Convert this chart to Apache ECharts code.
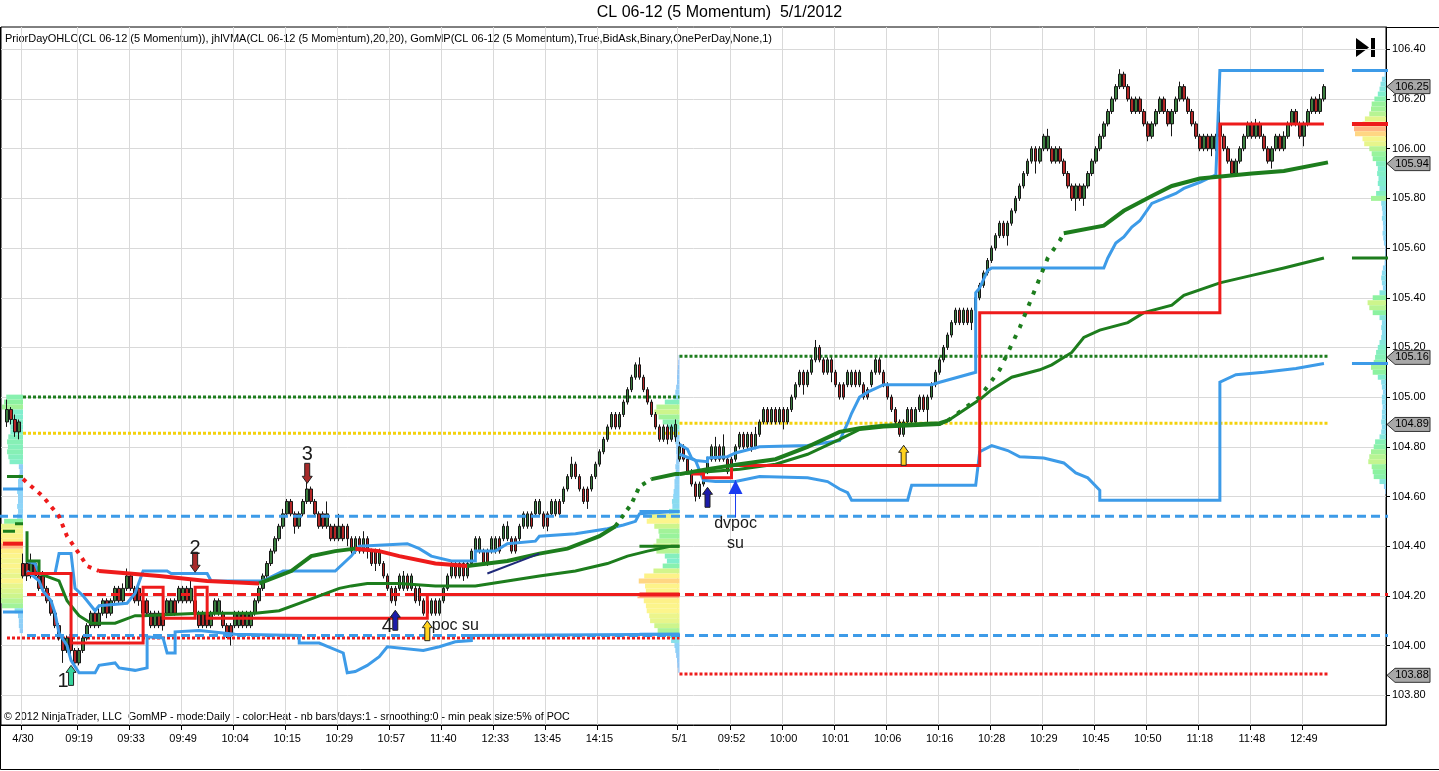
<!DOCTYPE html>
<html>
<head>
<meta charset="utf-8">
<script src="https://cdn.jsdelivr.net/npm/echarts@6/dist/echarts.min.js"></script>
<style>
html, body { margin: 0; padding: 0; background: #fff; }
#chart { width: 1439px; height: 771px; }
</style>
</head>
<body>
<div id="chart"></div>
<script>
// ---- data ----
// momentum bars [open, close, low, high]; first 4 are the tail of the prior session
const day1Bars = [
  [104.90,104.95,104.88,104.99],[104.95,104.91,104.89,104.96],[104.91,104.86,104.84,104.93],[104.86,104.90,104.83,104.91],
  [104.33,104.28,104.27,104.37],[104.33,104.28,104.26,104.34],[104.28,104.33,104.27,104.37],[104.33,104.28,104.27,104.34],
  [104.28,104.23,104.22,104.29],[104.28,104.23,104.22,104.30],[104.23,104.18,104.17,104.24],[104.18,104.13,104.12,104.19],
  [104.13,104.08,104.07,104.14],[104.08,104.03,104.02,104.09],[104.03,103.98,103.93,104.04],[103.98,104.03,103.97,104.04],
  [104.03,103.98,103.96,104.04],[103.98,103.93,103.92,103.99],[103.93,103.98,103.92,103.99],[103.98,104.03,103.97,104.04],
  [104.03,104.08,104.02,104.09],[104.08,104.13,104.07,104.14],[104.13,104.08,104.07,104.14],[104.08,104.13,104.07,104.15],
  [104.13,104.18,104.12,104.19],[104.18,104.13,104.11,104.19],[104.13,104.18,104.12,104.19],[104.18,104.23,104.17,104.24],
  [104.23,104.18,104.17,104.24],[104.18,104.23,104.17,104.25],[104.23,104.28,104.22,104.31],[104.28,104.23,104.22,104.29],
  [104.23,104.18,104.17,104.24],[104.23,104.18,104.16,104.24],[104.18,104.13,104.12,104.19],[104.18,104.13,104.12,104.19],
  [104.13,104.08,104.07,104.14],[104.08,104.13,104.07,104.14],[104.13,104.08,104.07,104.14],[104.13,104.08,104.06,104.14],
  [104.13,104.18,104.12,104.19],[104.13,104.18,104.12,104.19],[104.18,104.13,104.12,104.19],[104.18,104.23,104.17,104.24],
  [104.18,104.23,104.17,104.24],[104.23,104.18,104.17,104.24],[104.18,104.23,104.17,104.27],[104.18,104.13,104.12,104.19],
  [104.13,104.08,104.07,104.14],[104.13,104.08,104.07,104.14],[104.13,104.08,104.07,104.14],[104.08,104.13,104.07,104.14],
  [104.13,104.18,104.12,104.19],[104.13,104.18,104.12,104.19],[104.13,104.08,104.07,104.14],[104.08,104.04,104.03,104.09],
  [104.08,104.04,104.00,104.09],[104.08,104.13,104.07,104.14],[104.08,104.13,104.07,104.14],[104.13,104.08,104.07,104.14],
  [104.08,104.13,104.07,104.14],[104.08,104.13,104.07,104.14],[104.13,104.18,104.12,104.19],[104.18,104.23,104.17,104.24],
  [104.23,104.28,104.22,104.29],[104.28,104.33,104.27,104.34],[104.33,104.38,104.32,104.39],[104.38,104.43,104.37,104.44],
  [104.43,104.48,104.42,104.49],[104.48,104.53,104.47,104.55],[104.53,104.58,104.52,104.59],[104.58,104.53,104.52,104.59],
  [104.53,104.48,104.45,104.54],[104.48,104.53,104.47,104.54],[104.53,104.58,104.52,104.59],[104.58,104.63,104.57,104.66],
  [104.63,104.58,104.57,104.64],[104.58,104.53,104.52,104.59],[104.53,104.48,104.47,104.54],[104.53,104.48,104.47,104.54],
  [104.48,104.53,104.47,104.58],[104.48,104.43,104.42,104.49],[104.48,104.43,104.42,104.49],[104.43,104.48,104.42,104.53],
  [104.48,104.43,104.42,104.49],[104.48,104.43,104.40,104.49],[104.43,104.38,104.37,104.44],[104.38,104.43,104.37,104.44],
  [104.43,104.38,104.37,104.44],[104.38,104.43,104.37,104.46],[104.43,104.38,104.35,104.44],[104.38,104.33,104.32,104.39],
  [104.38,104.33,104.30,104.39],[104.33,104.38,104.32,104.39],[104.33,104.28,104.27,104.34],[104.28,104.23,104.22,104.29],
  [104.23,104.18,104.17,104.24],[104.23,104.18,104.16,104.24],[104.23,104.28,104.22,104.29],[104.23,104.28,104.22,104.30],
  [104.28,104.23,104.22,104.29],[104.23,104.28,104.22,104.29],[104.23,104.18,104.17,104.24],[104.23,104.18,104.16,104.24],
  [104.18,104.13,104.12,104.19],[104.18,104.13,104.11,104.19],[104.13,104.18,104.12,104.19],[104.18,104.13,104.12,104.19],
  [104.13,104.18,104.12,104.19],[104.18,104.23,104.17,104.24],[104.23,104.28,104.22,104.29],[104.28,104.33,104.27,104.34],
  [104.33,104.28,104.27,104.34],[104.28,104.33,104.27,104.34],[104.33,104.28,104.26,104.34],[104.28,104.33,104.27,104.34],
  [104.33,104.38,104.32,104.39],[104.38,104.43,104.37,104.44],[104.38,104.43,104.37,104.44],[104.38,104.33,104.32,104.39],
  [104.38,104.33,104.32,104.39],[104.38,104.43,104.37,104.44],[104.38,104.43,104.37,104.44],[104.43,104.38,104.37,104.44],
  [104.43,104.48,104.42,104.49],[104.43,104.48,104.42,104.50],[104.43,104.38,104.37,104.44],[104.43,104.38,104.37,104.44],
  [104.43,104.48,104.42,104.49],[104.48,104.53,104.47,104.54],[104.48,104.53,104.47,104.54],[104.53,104.48,104.47,104.54],
  [104.53,104.58,104.52,104.59],[104.53,104.58,104.52,104.59],[104.53,104.48,104.47,104.54],[104.53,104.48,104.46,104.54],
  [104.53,104.58,104.52,104.59],[104.53,104.58,104.52,104.59],[104.58,104.53,104.52,104.59],[104.58,104.63,104.57,104.64],
  [104.63,104.68,104.62,104.69],[104.68,104.73,104.67,104.76],[104.73,104.68,104.67,104.74],[104.68,104.63,104.62,104.69],
  [104.63,104.58,104.57,104.64],[104.63,104.58,104.55,104.64],[104.63,104.68,104.62,104.69],[104.68,104.73,104.67,104.74],
  [104.73,104.78,104.72,104.79],[104.78,104.83,104.77,104.84],[104.83,104.88,104.82,104.89],[104.88,104.93,104.87,104.94],
  [104.93,104.88,104.87,104.94],[104.88,104.93,104.87,104.94],[104.93,104.98,104.92,104.99],[104.98,105.03,104.97,105.04],
  [105.03,105.08,105.02,105.09],[105.08,105.13,105.07,105.14],[105.13,105.08,105.07,105.16],[105.08,105.03,105.02,105.09],
  [105.03,104.98,104.97,105.04],[104.98,104.93,104.92,104.99],[104.93,104.88,104.87,104.94],[104.88,104.83,104.82,104.89],
  [104.83,104.88,104.82,104.89],[104.88,104.83,104.81,104.89],[104.83,104.88,104.82,104.89],[104.84,104.89,104.82,104.91]
];
const day2Bars = [
  [104.75,104.80,104.74,104.82],[104.80,104.75,104.74,104.81],[104.75,104.70,104.69,104.76],[104.70,104.65,104.64,104.71],
  [104.65,104.60,104.58,104.66],[104.60,104.65,104.59,104.66],[104.65,104.70,104.64,104.71],[104.70,104.75,104.69,104.76],
  [104.75,104.80,104.74,104.81],[104.75,104.80,104.74,104.84],[104.80,104.75,104.74,104.81],[104.75,104.80,104.74,104.85],
  [104.75,104.70,104.69,104.76],[104.75,104.70,104.68,104.76],[104.75,104.80,104.74,104.81],[104.80,104.85,104.79,104.86],
  [104.85,104.80,104.79,104.86],[104.80,104.85,104.79,104.86],[104.85,104.80,104.78,104.86],[104.80,104.85,104.79,104.88],
  [104.85,104.90,104.84,104.91],[104.90,104.95,104.89,104.96],[104.95,104.90,104.89,104.96],[104.90,104.95,104.89,104.96],
  [104.95,104.90,104.89,104.96],[104.90,104.95,104.89,104.96],[104.95,104.90,104.87,104.96],[104.90,104.95,104.89,104.96],
  [104.95,105.00,104.94,105.01],[105.00,105.05,104.99,105.06],[105.05,105.10,105.04,105.11],[105.10,105.05,105.01,105.11],
  [105.05,105.10,105.04,105.11],[105.10,105.15,105.09,105.16],[105.15,105.20,105.14,105.23],[105.20,105.15,105.14,105.21],
  [105.15,105.10,105.09,105.16],[105.10,105.15,105.09,105.16],[105.15,105.10,105.06,105.16],[105.10,105.05,105.04,105.11],
  [105.05,105.00,104.99,105.06],[105.05,105.00,104.99,105.06],[105.05,105.10,105.04,105.11],
  [105.05,105.10,105.04,105.11],[105.10,105.05,105.04,105.11],[105.05,105.10,105.04,105.11],[105.05,105.00,104.99,105.06],
  [105.03,105.00,104.99,105.04],[105.05,105.10,105.04,105.11],[105.10,105.15,105.09,105.16],[105.15,105.10,105.09,105.16],
  [105.10,105.05,105.04,105.11],[105.05,105.00,104.99,105.06],[105.00,104.95,104.94,105.01],[104.95,104.90,104.89,104.96],
  [104.90,104.85,104.84,104.91],[104.85,104.90,104.84,104.91],[104.90,104.95,104.89,104.96],[104.95,104.90,104.89,104.96],
  [104.90,104.95,104.89,104.96],[104.95,105.00,104.94,105.01],[105.00,104.95,104.94,105.01],[104.95,105.00,104.90,105.01],
  [105.00,105.05,104.99,105.06],[105.05,105.10,105.04,105.11],[105.10,105.15,105.09,105.16],[105.15,105.20,105.14,105.21],
  [105.20,105.25,105.19,105.26],[105.25,105.30,105.24,105.31],[105.30,105.35,105.29,105.36],[105.35,105.30,105.29,105.36],
  [105.30,105.35,105.29,105.36],[105.35,105.30,105.29,105.36],[105.30,105.35,105.27,105.36],[105.35,105.40,105.34,105.41],
  [105.40,105.45,105.39,105.46],[105.45,105.50,105.44,105.51],[105.50,105.55,105.49,105.56],[105.55,105.60,105.54,105.61],
  [105.60,105.65,105.59,105.66],[105.65,105.70,105.64,105.71],[105.70,105.65,105.64,105.71],[105.65,105.70,105.61,105.71],
  [105.70,105.75,105.69,105.76],[105.75,105.80,105.74,105.81],[105.80,105.85,105.79,105.86],[105.85,105.90,105.84,105.91],
  [105.90,105.95,105.89,105.96],[105.95,106.00,105.94,106.01],[106.00,105.95,105.90,106.01],[105.95,106.00,105.94,106.01],
  [106.00,106.05,105.99,106.06],[106.00,106.05,105.99,106.08],[106.00,105.95,105.94,106.01],[105.95,106.00,105.94,106.01],
  [106.00,105.95,105.94,106.01],[105.95,105.90,105.89,105.96],[105.90,105.85,105.84,105.91],[105.85,105.80,105.79,105.86],
  [105.80,105.85,105.75,105.86],[105.85,105.80,105.79,105.86],[105.80,105.85,105.77,105.86],[105.85,105.90,105.84,105.91],
  [105.90,105.95,105.89,105.96],[105.95,106.00,105.94,106.01],[106.00,106.05,105.99,106.06],[106.05,106.10,106.04,106.11],
  [106.10,106.15,106.09,106.16],[106.15,106.20,106.14,106.21],[106.20,106.25,106.19,106.26],[106.25,106.30,106.24,106.32],
  [106.30,106.25,106.24,106.31],[106.25,106.20,106.19,106.26],[106.20,106.15,106.14,106.21],[106.15,106.20,106.14,106.21],
  [106.20,106.15,106.14,106.21],[106.15,106.10,106.09,106.16],[106.10,106.05,106.03,106.11],[106.05,106.10,106.04,106.11],
  [106.10,106.15,106.09,106.16],[106.15,106.20,106.14,106.21],[106.20,106.15,106.14,106.21],[106.15,106.10,106.09,106.16],
  [106.10,106.15,106.05,106.16],[106.15,106.20,106.14,106.21],[106.20,106.25,106.19,106.27],[106.25,106.20,106.19,106.26],
  [106.20,106.15,106.14,106.21],[106.15,106.10,106.09,106.16],[106.10,106.05,106.04,106.11],[106.05,106.00,105.99,106.06],
  [106.00,106.05,105.99,106.06],[106.05,106.00,105.99,106.06],[106.00,106.05,105.97,106.06],[106.00,106.05,105.99,106.06],
  [106.10,106.05,106.04,106.15],[106.05,106.00,105.99,106.06],[106.00,105.95,105.94,106.01],[105.95,105.90,105.89,105.96],
  [105.90,105.95,105.89,105.96],[105.95,106.00,105.94,106.01],[106.00,106.05,105.99,106.06],[106.05,106.10,106.04,106.11],
  [106.10,106.05,106.04,106.11],[106.05,106.10,106.04,106.12],[106.10,106.05,106.04,106.11],[106.05,106.00,105.99,106.06],
  [106.00,105.95,105.94,106.01],[105.95,106.00,105.92,106.01],[106.00,106.05,105.99,106.06],[106.05,106.00,105.99,106.06],
  [106.00,106.05,105.99,106.07],[106.05,106.10,106.04,106.11],[106.10,106.15,106.09,106.16],[106.15,106.10,106.09,106.16],
  [106.10,106.05,106.04,106.11],[106.05,106.10,106.01,106.11],[106.10,106.15,106.09,106.16],[106.15,106.20,106.14,106.21],
  [106.20,106.15,106.14,106.21],[106.15,106.20,106.14,106.22],[106.20,106.25,106.19,106.26]
];

// time axis labels: [bar index, text]
const timeLabels = [[4,'4/30'],[18,'09:19'],[31,'09:33'],[44,'09:49'],[57,'10:04'],[70,'10:15'],[83,'10:29'],
  [96,'10:57'],[109,'11:40'],[122,'12:33'],[135,'13:45'],[148,'14:15'],[168,'5/1'],[181,'09:52'],[194,'10:00'],
  [207,'10:01'],[220,'10:06'],[233,'10:16'],[246,'10:28'],[259,'10:29'],[272,'10:45'],[285,'10:50'],[298,'11:18'],
  [311,'11:48'],[324,'12:49']];
const priceTicks = [103.8,104.0,104.2,104.4,104.6,104.8,105.0,105.2,105.4,105.6,105.8,106.0,106.2,106.4];
const priceTags = [106.25,105.94,105.16,104.89,103.88];

// prior day high / close / low
const priorDay1 = [105.00,104.855,104.03];
const priorDay2 = [105.165,104.895,103.885];
// levels running across both sessions: blue, red, blue
const wideLevels = [104.52,104.205,104.04];

// jhlVMA pieces [bar, price]
const vmaRedDots = [[4,104.67],[9,104.60],[12.75,104.52],[15.25,104.44],[17.75,104.37],[20.25,104.32],[23.25,104.30]];
const vmaRed1 = [[23.25,104.30],[38.25,104.28],[50,104.26],[63.25,104.25]];
const vmaGreen1 = [[63.25,104.25],[70.75,104.30],[75.75,104.36],[81.5,104.38],[87,104.39]];
const vmaRed2 = [[87,104.39],[93.25,104.38],[98.25,104.36],[106.5,104.33],[115,104.32]];
const vmaGreen2 = [[115,104.32],[125,104.34],[132.5,104.37],[140,104.39],[147.5,104.44],[152,104.48]];
const vmaGreenDots1 = [[152,104.48],[155.75,104.57],[158.25,104.64],[161,104.67]];
const vmaGreen3 = [[161,104.67],[166.5,104.69],[167.8,104.69]];
const vmaDay2 = [[168.2,104.69],[175,104.71],[183.25,104.73],[191.5,104.75],[200,104.80],[208.25,104.86],[213.25,104.875],
  [219,104.885],[233.25,104.895],[235,104.905]];
const vmaDay2Dots = [[235,104.905],[242.5,105.00],[247.5,105.11],[252.5,105.28],[257.5,105.48],[260,105.56],[262.5,105.63],[264,105.66]];
const vmaDay2b = [[264,105.66],[274,105.69],[279,105.75],[285.75,105.81],[290.75,105.85],[297.5,105.88],[310.75,105.90],[319,105.91],[330,105.945]];

// GomMP developing lines [bar, price]
const vwapDay1 = [[4.5,104.46],[5,104.34],[7.5,104.34],[8.25,104.29],[12.75,104.26],[14,104.22],[15.25,104.18],[16.5,104.14],
  [18.25,104.12],[20.75,104.09],[27,104.09],[31.5,104.12],[34,104.12],[48.25,104.13],[61.5,104.13],[67.5,104.14],[73.25,104.17],
  [78.25,104.20],[82.5,104.23],[85.75,104.24],[90,104.25],[98.25,104.25],[106.5,104.24],[116.5,104.24],[125,104.26],[132.5,104.28],
  [141.5,104.30],[150,104.33],[155,104.36],[160,104.38],[165.75,104.40],[167.8,104.40]];
const vwapDay2 = [[168.2,104.69],[175,104.70],[183.25,104.71],[191.5,104.73],[200,104.77],[208.25,104.83],[213.25,104.87],[219,104.88],
  [233.25,104.89],[235.75,104.915],[242.5,104.99],[245.75,105.03],[250.75,105.08],[257.5,105.11],[260.75,105.13],[265.75,105.18],
  [269,105.24],[273.25,105.27],[280,105.30],[284,105.34],[290.75,105.37],[294,105.41],[302.5,105.46],[310.75,105.49],[319,105.52],[329,105.56]];
const pocDay1 = [[4.5,104.29],[16.25,104.29],[16.25,104.01],[34,104.01],[34,104.235],[39,104.235],[39,104.11],[46.5,104.11],
  [46.5,104.235],[50.25,104.235],[50.25,104.11],[104.5,104.11],[104.5,104.205],[167.8,104.205]];
const pocDay2 = [[171,104.69],[174,104.69],[174,104.675],[181.25,104.675],[181.25,104.725],[242.5,104.725],[242.5,105.34],[302.5,105.34],[302.5,106.10],[329,106.10]];
const bandUp1 = [[4.5,104.34],[7.4,104.33],[8.25,104.29],[11.6,104.29],[12.8,104.37],[16.2,104.37],[16.75,104.23],[18.7,104.20],
  [21.6,104.14],[23.25,104.16],[29.9,104.17],[32,104.21],[34.1,104.30],[39.5,104.30],[41.2,104.29],[50.3,104.29],[50.75,104.26],
  [64,104.26],[69,104.30],[81.6,104.30],[85.75,104.36],[88.25,104.40],[99.9,104.41],[103.25,104.39],[105.75,104.36],[110.75,104.34],
  [116.6,104.34],[117.4,104.38],[122.4,104.38],[124.9,104.41],[132.4,104.42],[133.25,104.44],[141.6,104.45],[145.75,104.46],
  [150,104.47],[154,104.485],[156.6,104.50],[158.25,104.53],[167.8,104.54]];
const bandLow1 = [[4.5,104.30],[8.25,104.26],[9.1,104.22],[10.75,104.18],[12.4,104.13],[13.25,104.05],[14.9,104.00],[16.2,103.94],
  [18.25,103.89],[22.4,103.89],[23.25,103.92],[26.6,103.93],[28.25,103.91],[31.6,103.90],[34.5,103.91],[34.5,104.035],[39.1,104.03],
  [39.5,103.97],[41.6,103.97],[41.6,104.055],[48.25,104.06],[56.6,104.045],[73.25,104.04],[73.25,104.01],[78.25,104.01],[84.1,103.97],
  [84.9,103.89],[87.4,103.895],[89.9,103.92],[93.25,103.955],[94.9,103.995],[104.1,103.98],[108.25,103.995],[111.5,104.015],
  [115.75,104.02],[116.25,104.04],[167.8,104.045]];
const bandUp2 = [[168.2,104.81],[169.5,104.79],[170.75,104.755],[171.5,104.745],[175,104.74],[175.25,104.755],[180,104.76],
  [181.5,104.775],[187.5,104.80],[200,104.805],[208.25,104.825],[210,104.895],[210.75,104.935],[212.5,105.00],[215,105.02],
  [219,105.05],[230.75,105.05],[232.5,105.06],[241.5,105.10],[242.25,105.42],[243.25,105.44],[245,105.51],[245.75,105.52],
  [274,105.52],[275,105.56],[276.5,105.62],[279,105.645],[280.75,105.685],[283.25,105.71],[285.75,105.78],[289,105.80],
  [291.5,105.82],[294,105.84],[298.25,105.865],[301.5,105.895],[302.5,106.315],[329,106.315]];
const bandLow2 = [[168.2,104.77],[171.5,104.745],[174,104.665],[176.5,104.66],[181.5,104.66],[187.5,104.68],[200,104.675],
  [205,104.66],[208.25,104.63],[210,104.615],[210.75,104.585],[225.25,104.585],[226.25,104.645],[242.25,104.645],[242.5,104.78],
  [245.75,104.805],[250,104.785],[253.25,104.76],[259,104.755],[264,104.735],[266.5,104.695],[270,104.675],[273.25,104.625],
  [273.25,104.585],[302.5,104.585],[302.5,105.06],[306.5,105.09],[314,105.10],[321.5,105.115],[329,105.135]];
const trendLine = [[120.25,104.29],[132.5,104.37]];

// end-of-session markers [fromBar, toBar, price]
const blueMarks = [[-1.5,3.75,104.63],[-1.5,3.75,104.135],[157.75,167.8,104.54],[157.75,167.8,104.045],[335.75,344.5,106.315],[335.75,344.5,105.135]];
const greenMarks = [[0,3.75,104.68],[-1.5,1.5,104.46],[1.5,3.75,104.49],[157.75,167.8,104.40],[335.75,344.5,105.56]];
const redMarks = [[-1.5,3.75,104.41],[157.75,167.8,104.205],[335.75,344.5,106.10]];

// volume profiles [price, volume]
const profilePrev = [[105.00,40],[104.98,45],[104.96,50],[104.94,30],[104.92,30],[104.90,32],[104.88,30],[104.86,30],[104.84,35],
  [104.82,38],[104.80,36],[104.78,38],[104.76,35],[104.74,32],[104.72,10],[104.70,8],[104.68,10],[104.66,12],[104.64,12],[104.62,14],
  [104.60,12],[104.58,12],[104.56,14],[104.54,12],[104.52,14],[104.50,45],[104.48,70],[104.46,75],[104.44,85],[104.42,95],[104.40,100],
  [104.38,90],[104.36,80],[104.34,75],[104.32,80],[104.30,75],[104.28,70],[104.26,80],[104.24,70],[104.22,65],[104.20,60],[104.18,55],
  [104.16,50],[104.14,20],[104.12,12],[104.10,10],[104.08,10],[104.06,8]];
const profileDay1 = [[105.16,2],[105.14,3],[105.12,4],[105.10,5],[105.08,6],[105.06,6],[105.04,8],[105.02,10],[105.00,14],[104.98,35],
  [104.96,55],[104.94,60],[104.92,50],[104.90,40],[104.88,30],[104.86,20],[104.84,12],[104.82,10],[104.80,8],[104.78,8],[104.76,7],
  [104.74,8],[104.72,10],[104.70,9],[104.68,10],[104.66,12],[104.64,12],[104.62,14],[104.60,15],[104.58,18],[104.56,17],[104.54,25],
  [104.52,72],[104.50,78],[104.48,60],[104.46,50],[104.44,48],[104.42,55],[104.40,62],[104.38,55],[104.36,35],[104.34,30],[104.32,40],
  [104.30,62],[104.28,84],[104.26,97],[104.24,82],[104.22,80],[104.20,100],[104.18,85],[104.16,80],[104.14,78],[104.12,72],[104.10,70],
  [104.08,60],[104.06,52],[104.04,30],[104.02,20],[104.00,12],[103.98,10],[103.96,8],[103.94,6],[103.92,5],[103.90,3]];
const profileDay2 = [[106.30,10],[106.28,18],[106.26,22],[106.24,25],[106.22,30],[106.20,40],[106.18,48],[106.16,50],[106.14,55],
  [106.12,68],[106.10,75],[106.08,100],[106.06,97],[106.04,75],[106.02,70],[106.00,55],[105.98,48],[105.96,45],[105.94,35],[105.92,30],
  [105.90,32],[105.88,28],[105.86,30],[105.84,25],[105.82,35],[105.80,50],[105.78,20],[105.76,18],[105.74,16],[105.72,18],[105.70,15],
  [105.68,14],[105.66,16],[105.64,14],[105.62,12],[105.60,8],[105.58,8],[105.56,8],[105.54,10],[105.52,15],[105.50,18],[105.48,20],
  [105.46,18],[105.44,15],[105.42,25],[105.40,45],[105.38,60],[105.36,55],[105.34,45],[105.32,25],[105.30,18],[105.28,20],[105.26,18],
  [105.24,20],[105.22,25],[105.20,30],[105.18,35],[105.16,38],[105.14,42],[105.12,50],[105.10,45],[105.08,30],[105.06,20],[105.04,18],
  [105.02,15],[105.00,18],[104.98,18],[104.96,16],[104.94,18],[104.92,18],[104.90,20],[104.88,18],[104.86,20],[104.84,25],[104.82,38],
  [104.80,42],[104.78,50],[104.76,55],[104.74,58],[104.72,48],[104.70,45],[104.68,42],[104.66,25],[104.64,12],[104.62,8],[104.60,5]];

// signal arrows [bar, tip price, direction] and labels [text, bar, price]
const arrowMarks = [[15.5,103.92,1],[47.25,104.295,-1],[75.25,104.653,-1],[97,104.142,1],[105.25,104.10,1],[175.25,104.637,1],[224.25,104.806,1]];
const dvpocMark = [181.5,104.666,104.517];
const noteTexts = [['1',14,103.855],['2',47.25,104.39],['3',75.25,104.77],['4',95.25,104.075],['poc su',112,104.08],['dvpoc',181.5,104.49],['su',181.5,104.41]];

// ---- chart ----
const OFF = 1;          // one empty slot before the first bar
const NCAT = 346;
const FONT = 'Liberation Sans, Arial, sans-serif';
const BLUE = '#3d9be8', GREEN = '#1d7d1d', RED = '#ee1b1b', YELLOW = '#f3d10c';
const arrowFills = ['#35d49c','#a82a2a','#a82a2a','#1c1caa','#ffd21e','#1c1caa','#ffd21e'];

const bars = day1Bars.concat(day2Bars);
const labelAt = {};
timeLabels.forEach(([k, t]) => { labelAt[k + OFF] = t; });
const cats = [];
for (let i = 0; i < NCAT; i++) cats.push('c' + i);
const showAt = (i) => labelAt[i] !== undefined;

const series = [];
const P = pts => pts.map(([k, p]) => [k + OFF, p]);
function line(pts, color, width, dash, z) {
  series.push({
    type: 'line', data: P(pts), symbol: 'none', silent: true, z: z || 5,
    lineStyle: { color: color, width: width, type: dash || 'solid', cap: 'butt', join: 'miter' }
  });
}
function heat(r) {
  const stops = [[0,[150,190,245]],[0.15,[140,215,248]],[0.3,[128,238,205]],[0.45,[140,242,160]],[0.6,[205,245,140]],
    [0.78,[252,245,140]],[0.95,[255,236,130]],[1,[255,182,132]]];
  for (let i = 1; i < stops.length; i++) {
    if (r <= stops[i][0]) {
      const a = stops[i - 1], b = stops[i], t = (r - a[0]) / (b[0] - a[0]);
      const c = a[1].map((v, j) => Math.round(v + (b[1][j] - v) * t));
      return 'rgb(' + c.join(',') + ')';
    }
  }
  return 'rgb(255,182,132)';
}
function profile(levels, anchorK, maxPx) {
  const vmax = Math.max.apply(null, levels.map(l => l[1]));
  series.push({
    type: 'custom', z: 1, clip: true, silent: true,
    data: levels.map(l => [anchorK + OFF, l[0], l[1]]),
    encode: { x: 0, y: 1 },
    renderItem: function (params, api) {
      const pt = api.coord([api.value(0), api.value(1)]);
      const h = Math.abs(api.size([0, 0.02])[1]);
      const w = api.value(2) / vmax * maxPx;
      return { type: 'rect', shape: { x: pt[0] - w, y: pt[1] - h / 2, width: w, height: h },
        style: { fill: heat(api.value(2) / vmax) } };
    }
  });
}

// vertical grid lines and axis ticks at the labelled bars
series.push({
  type: 'custom', z: 0, clip: false, silent: true,
  data: timeLabels.map(t => [t[0] + OFF, 105]), encode: { x: 0, y: 1 },
  renderItem: function (params, api) {
    const cs = params.coordSys;
    const x = Math.round(api.coord([api.value(0), api.value(1)])[0] - api.size([1, 0])[0] / 2) + 0.5;
    const b = cs.y + cs.height;
    return { type: 'group', children: [
      { type: 'line', shape: { x1: x, y1: cs.y, x2: x, y2: b }, style: { stroke: '#d9d9d9', lineWidth: 1 } },
      { type: 'line', shape: { x1: x, y1: b, x2: x, y2: b + 5 }, style: { stroke: '#000', lineWidth: 1 } }
    ] };
  }
});

profile(profilePrev, 3.5, 42);
profile(profileDay1, 167.5, 42);
profile(profileDay2, 344.5, 34);

// prior day levels
[[priorDay1, 3.75, 0, 167.8], [priorDay2, 168.2, 168.2, 330]].forEach(([lv, a, aLow, b]) => {
  line([[a, lv[0]], [b, lv[0]]], GREEN, 3, [3, 2], 2);
  line([[a, lv[1]], [b, lv[1]]], YELLOW, 3, [3, 2], 2);
  line([[aLow, lv[2]], [b, lv[2]]], RED, 3, [3, 2], 2);
});
line([[-1.75, wideLevels[0]], [344.5, wideLevels[0]]], BLUE, 3, [9, 5], 4);
line([[5.25, wideLevels[1]], [344.5, wideLevels[1]]], RED, 3, [9, 5], 4);
line([[5.25, wideLevels[2]], [344.5, wideLevels[2]]], BLUE, 3, [9, 5], 4);

series.push({
  type: 'candlestick', data: bars.map((b, i) => [i + OFF].concat(b)), encode: { x: 0, y: [1, 2, 3, 4] },
  barWidth: 3, z: 3, silent: true,
  itemStyle: { color: '#3a7d3e', color0: '#b32626', borderColor: '#161616', borderColor0: '#161616', borderWidth: 1 }
});

[bandUp1, bandLow1, bandUp2, bandLow2].forEach(b => line(b, BLUE, 3));
line(vwapDay1, GREEN, 3);
line(vwapDay2, GREEN, 3);
line(pocDay1, RED, 3);
line(pocDay2, RED, 3);
line(vmaRedDots, RED, 4, [4, 6], 6);
[vmaRed1, vmaRed2].forEach(v => line(v, RED, 4, 'solid', 6));
[vmaGreen1, vmaGreen2, vmaGreen3, vmaDay2, vmaDay2b].forEach(v => line(v, GREEN, 4, 'solid', 6));
line(vmaGreenDots1, GREEN, 4, [4, 6], 6);
line(vmaDay2Dots, GREEN, 4, [4, 8], 6);
line(trendLine, '#1f2a7a', 2, 'solid', 6);
blueMarks.forEach(m => line([[m[0], m[2]], [m[1], m[2]]], BLUE, 3));
greenMarks.forEach(m => line([[m[0], m[2]], [m[1], m[2]]], GREEN, 3));
redMarks.forEach(m => line([[m[0], m[2]], [m[1], m[2]]], RED, 4));

// arrows
series.push({
  type: 'custom', z: 8, clip: false, silent: true,
  data: arrowMarks.map(a => [a[0] + OFF, a[1], a[2]]), encode: { x: 0, y: 1 },
  renderItem: function (params, api) {
    const pt = api.coord([api.value(0), api.value(1)]);
    const d = api.value(2), x = pt[0], y = pt[1];
    const pts = [[x, y], [x + 5, y + 7 * d], [x + 2.5, y + 7 * d], [x + 2.5, y + 20 * d], [x - 2.5, y + 20 * d], [x - 2.5, y + 7 * d], [x - 5, y + 7 * d]];
    return { type: 'polygon', shape: { points: pts }, style: { fill: arrowFills[params.dataIndex], stroke: '#222', lineWidth: 1 } };
  }
});
// dvpoc marker
series.push({
  type: 'custom', z: 8, clip: false, silent: true,
  data: [[dvpocMark[0] + OFF, dvpocMark[1], dvpocMark[2]]], encode: { x: 0, y: 1 },
  renderItem: function (params, api) {
    const top = api.coord([api.value(0), api.value(1)]);
    const bot = api.coord([api.value(0), api.value(2)]);
    return { type: 'group', children: [
      { type: 'line', shape: { x1: top[0], y1: top[1], x2: bot[0], y2: bot[1] }, style: { stroke: '#1a3cf0', lineWidth: 1 } },
      { type: 'polygon', shape: { points: [[top[0], top[1]], [top[0] + 7, top[1] + 14], [top[0] - 7, top[1] + 14]] }, style: { fill: '#1a3cf0' } }
    ] };
  }
});
// annotation texts
series.push({
  type: 'custom', z: 9, clip: false, silent: true,
  data: noteTexts.map(t => ({ value: [t[1] + OFF, t[2]], name: t[0] })), encode: { x: 0, y: 1 },
  renderItem: function (params, api) {
    const pt = api.coord([api.value(0), api.value(1)]);
    const txt = noteTexts[params.dataIndex][0];
    const big = txt.length === 1;
    return { type: 'text', z2: 10, style: { text: txt, x: pt[0], y: pt[1], align: 'center', verticalAlign: 'middle',
      fontSize: big ? 20 : 16, fontFamily: FONT, fill: '#1a1a1a' } };
  }
});
// price tags on the axis
series.push({
  type: 'custom', z: 20, clip: false, silent: true,
  data: priceTags.map(p => [OFF, p]), encode: { x: 0, y: 1 },
  renderItem: function (params, api) {
    const y = api.coord([api.value(0), api.value(1)])[1];
    const x = params.coordSys.x + params.coordSys.width + 1;
    return { type: 'group', children: [
      { type: 'polygon', shape: { points: [[x, y], [x + 8, y - 7], [x + 43, y - 7], [x + 43, y + 7], [x + 8, y + 7]] },
        style: { fill: '#a8a8a8', stroke: '#333', lineWidth: 1 } },
      { type: 'text', style: { text: api.value(1).toFixed(2), x: x + 25, y: y, align: 'center', verticalAlign: 'middle',
        fontSize: 11, fontFamily: FONT, fill: '#000' } }
    ] };
  }
});

const chart = echarts.init(document.getElementById('chart'));
chart.setOption({
  animation: false,
  backgroundColor: '#fff',
  textStyle: { fontFamily: FONT },
  grid: { left: 1, right: 53, top: 27, bottom: 46, show: true, borderColor: '#000', borderWidth: 1 },
  xAxis: {
    type: 'category', data: cats, boundaryGap: true,
    axisLine: { lineStyle: { color: '#000' } },
    axisTick: { show: false },
    axisLabel: { interval: showAt, formatter: (v, i) => labelAt[i] || '', fontSize: 11, color: '#000', margin: 8, fontFamily: FONT },
    splitLine: { show: false }
  },
  yAxis: {
    type: 'value', position: 'right', min: 103.68, max: 106.49,
    axisLine: { show: true, lineStyle: { color: '#000' } },
    axisTick: { show: true, length: 4, customValues: priceTicks, lineStyle: { color: '#000' } },
    axisLabel: { customValues: priceTicks, formatter: v => v.toFixed(2), fontSize: 11, color: '#000', margin: 6, fontFamily: FONT },
    splitLine: { show: true, lineStyle: { color: '#d9d9d9' } }
  },
  graphic: [
    { type: 'text', left: 'center', top: 5, style: { text: 'CL 06-12 (5 Momentum)  5/1/2012', fontSize: 16, fontFamily: FONT, fill: '#000' } },
    { type: 'text', left: 5, top: 33, style: { text: 'PriorDayOHLC(CL 06-12 (5 Momentum)), jhlVMA(CL 06-12 (5 Momentum),20,20), GomMP(CL 06-12 (5 Momentum),True,BidAsk,Binary,OnePerDay,None,1)', fontSize: 11, fontFamily: FONT, fill: '#000' } },
    { type: 'text', left: 4, top: 712, style: { text: '\u00a9 2012 NinjaTrader, LLC  GomMP - mode:Daily  - color:Heat - nb bars/days:1 - smoothing:0 - min peak size:5% of POC', fontSize: 10.7, fontFamily: FONT, fill: '#000' } },
    { type: 'polygon', shape: { points: [[1356, 38], [1356, 57], [1369, 47.5]] }, style: { fill: '#000' } },
    { type: 'rect', shape: { x: 1371, y: 38, width: 4, height: 19 }, style: { fill: '#000' } },
    { type: 'line', shape: { x1: 1386, y1: 27.5, x2: 1439, y2: 27.5 }, style: { stroke: '#000', lineWidth: 1 } },
    { type: 'polyline', shape: { points: [[0.5, 27], [0.5, 769.5], [1439, 769.5]] }, style: { stroke: '#000', lineWidth: 1, fill: null } }
  ],
  series: series
});
</script>
</body>
</html>
